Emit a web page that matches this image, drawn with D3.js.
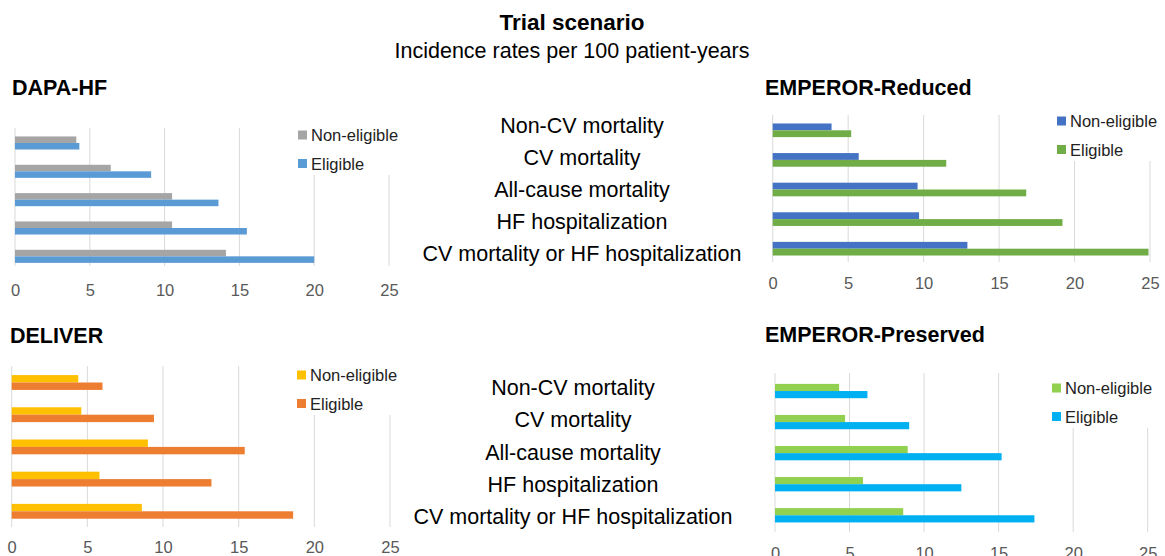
<!DOCTYPE html>
<html>
<head>
<meta charset="utf-8">
<script src="https://cdn.jsdelivr.net/npm/d3@7"></script>
<style>
body { margin: 0; background: #fff; }
svg { font-family: "Liberation Sans", Arial, sans-serif; }
</style>
</head>
<body>
<svg id="chart" width="1165" height="556"></svg>
<script>
var categories = ["Non-CV mortality", "CV mortality", "All-cause mortality", "HF hospitalization", "CV mortality or HF hospitalization"];
var seriesNames = ["Non-eligible", "Eligible"];
var xTicks = [0, 5, 10, 15, 20, 25];

var dapaNonEligible = [4.1, 6.4, 10.5, 10.5, 14.1];
var dapaEligible = [4.3, 9.1, 13.6, 15.5, 20.0];
var reducedNonEligible = [3.9, 5.7, 9.6, 9.7, 12.9];
var reducedEligible = [5.2, 11.5, 16.8, 19.2, 24.9];
var deliverNonEligible = [4.4, 4.6, 9.0, 5.8, 8.6];
var deliverEligible = [6.0, 9.4, 15.4, 13.2, 18.6];
var preservedNonEligible = [4.3, 4.7, 8.9, 5.9, 8.6];
var preservedEligible = [6.2, 9.0, 15.2, 12.5, 17.4];

var svg = d3.select("#chart");

// header
svg.append("text")
    .attr("x", 572).attr("y", 30)
    .attr("text-anchor", "middle")
    .style("font-size", "22.5px").style("font-weight", "bold")
    .text("Trial scenario");
svg.append("text")
    .attr("x", 572).attr("y", 58)
    .attr("text-anchor", "middle")
    .style("font-size", "21.5px")
    .text("Incidence rates per 100 patient-years");

var panels = [
    {title: "DAPA-HF", values: [dapaNonEligible, dapaEligible], colors: ["#a5a5a5", "#5b9bd5"],
     x0: 15, x1: 389, bandTop: 128.8, bandBottom: 270.5, gridTop: 128, gridBottom: 266, tickY: 290,
     titleX: 12, titleY: 95, legendX: 298, legendY: 135},
    {title: "EMPEROR-Reduced", values: [reducedNonEligible, reducedEligible], colors: ["#4472c4", "#70ad47"],
     x0: 772.7, x1: 1150, bandTop: 115.5, bandBottom: 263.5, gridTop: 115, gridBottom: 262, tickY: 283,
     titleX: 765, titleY: 95, legendX: 1057, legendY: 121},
    {title: "DELIVER", values: [deliverNonEligible, deliverEligible], colors: ["#ffc000", "#ed7d31"],
     x0: 11.7, x1: 390, bandTop: 366.4, bandBottom: 527.4, gridTop: 366, gridBottom: 527, tickY: 547,
     titleX: 10, titleY: 343, legendX: 297, legendY: 375},
    {title: "EMPEROR-Preserved", values: [preservedNonEligible, preservedEligible], colors: ["#92d050", "#00b0f0"],
     x0: 775, x1: 1147.7, bandTop: 375.5, bandBottom: 530.8, gridTop: 373, gridBottom: 532, tickY: 553,
     titleX: 765, titleY: 342, legendX: 1052, legendY: 388}
];

var drawPanel = function(p) {
    var g = svg.append("g");

    var xScale = d3.scaleLinear().domain([0, 25]).range([p.x0, p.x1]);
    var yScale = d3.scaleBand().domain(categories).range([p.bandTop, p.bandBottom]);
    var inner = d3.scaleBand().domain(seriesNames).range([0, yScale.bandwidth()])
        .paddingInner(0).paddingOuter(1.17);

    // gridlines
    g.selectAll(".grid")
        .data(xTicks)
        .enter()
        .append("line")
        .attr("x1", function(d) { return xScale(d); })
        .attr("x2", function(d) { return xScale(d); })
        .attr("y1", p.gridTop)
        .attr("y2", p.gridBottom)
        .style("stroke", "#d9d9d9")
        .style("stroke-width", 1);

    // legend background hides the top of gridlines
    g.append("rect")
        .attr("x", p.legendX - 6)
        .attr("y", p.gridTop - 2)
        .attr("width", p.x1 - p.legendX + 14)
        .attr("height", p.legendY - p.gridTop + 42)
        .attr("fill", "#fff");

    var groups = g.selectAll(".series")
        .data(seriesNames)
        .enter()
        .append("g");

    groups.selectAll("rect")
        .data(function(s, i) {
            return p.values[i].map(function(v, j) { return {series: s, cat: categories[j], value: v, idx: i}; });
        })
        .enter()
        .append("rect")
        .attr("x", xScale(0))
        .attr("y", function(d) { return yScale(d.cat) + inner(d.series); })
        .attr("width", function(d) { return xScale(d.value) - xScale(0); })
        .attr("height", inner.bandwidth())
        .attr("fill", function(d) { return p.colors[d.idx]; });

    // x axis labels
    var axis = d3.axisBottom(xScale).tickValues(xTicks).tickSize(0).tickPadding(0);
    var ax = g.append("g")
        .attr("transform", "translate(0," + (p.tickY - 6) + ")")
        .call(axis);
    ax.select(".domain").remove();
    ax.selectAll("text")
        .style("font-size", "16.5px")
        .style("font-family", "'Liberation Sans', Arial, sans-serif")
        .attr("fill", "#595959");

    // title
    g.append("text")
        .attr("x", p.titleX).attr("y", p.titleY)
        .style("font-size", "21.5px").style("font-weight", "bold")
        .text(p.title);

    // legend
    var leg = g.selectAll(".leg")
        .data(seriesNames)
        .enter()
        .append("g")
        .attr("transform", function(d, i) { return "translate(" + p.legendX + "," + (p.legendY + i * 28.5) + ")"; });
    leg.append("rect")
        .attr("x", 0).attr("y", -4.5)
        .attr("width", 9).attr("height", 9)
        .attr("fill", function(d, i) { return p.colors[i]; });
    leg.append("text")
        .attr("x", 13).attr("y", 6)
        .style("font-size", "16.5px")
        .attr("fill", "#222")
        .text(function(d) { return d; });
};

panels.forEach(drawPanel);

// category labels in the middle column
var labelRows = [{cx: 582, top: 133, bottom: 261}, {cx: 573, top: 395, bottom: 524}];
labelRows.forEach(function(r) {
    var yPos = d3.scalePoint().domain(categories).range([r.top, r.bottom]);
    svg.append("g")
        .selectAll("text")
        .data(categories)
        .enter()
        .append("text")
        .attr("x", r.cx)
        .attr("y", function(d) { return yPos(d); })
        .attr("text-anchor", "middle")
        .style("font-size", "21.5px")
        .text(function(d) { return d; });
});
</script>
</body>
</html>
